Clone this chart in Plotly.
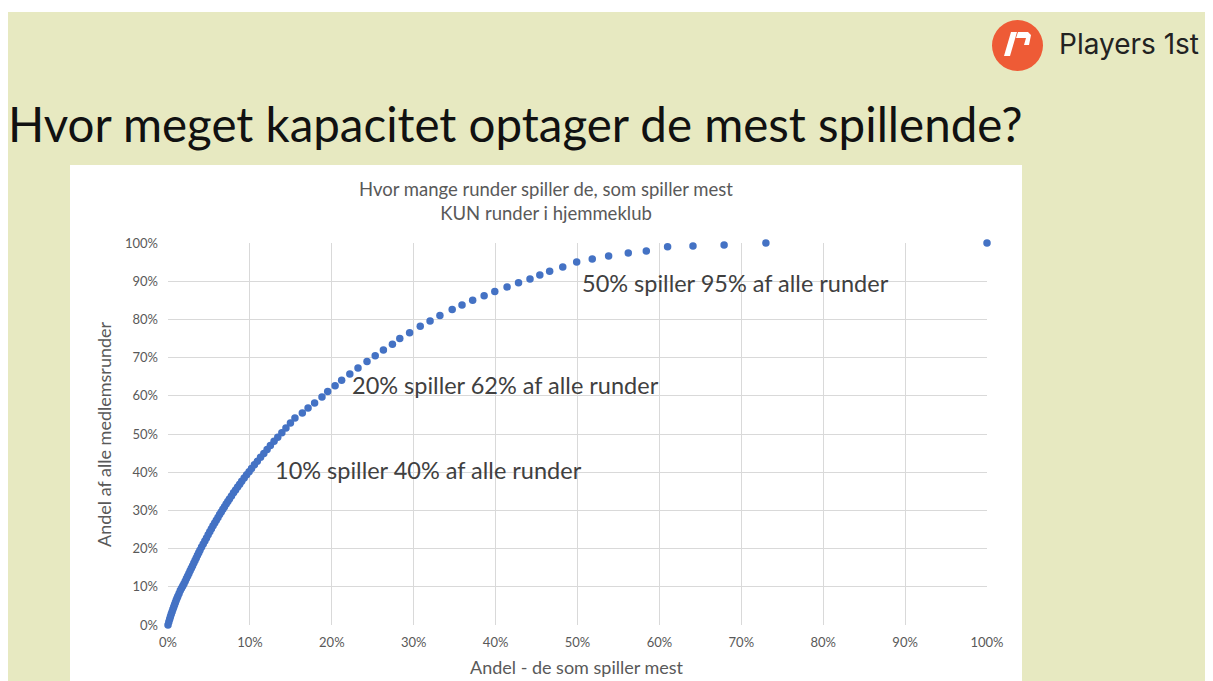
import plotly.graph_objects as go

# Cumulative share of players (sorted by most rounds) vs cumulative share of rounds
andel_spillere = [
    0.0, 0.1, 0.2, 0.3, 0.4, 0.5, 0.6, 0.7, 0.8, 0.9, 1.0, 1.1, 1.2, 1.35, 1.5,
    1.65, 1.8, 1.95, 2.1, 2.25, 2.4, 2.55, 2.7, 2.85, 3.0, 3.15, 3.3, 3.45, 3.6,
    3.75, 3.9, 4.1, 4.3, 4.5, 4.7, 4.9, 5.1, 5.3, 5.5, 5.7, 5.9, 6.1, 6.3, 6.5,
    6.7, 6.9, 7.1, 7.3, 7.5, 7.75, 8.0, 8.25, 8.5, 8.75, 9.0, 9.3, 9.6, 9.9, 10.2,
    10.55, 10.9, 11.3, 11.7, 12.1, 12.5, 12.95, 13.4, 13.9, 14.4, 14.95, 15.5,
    16.4, 17.1, 17.9, 18.8, 19.5, 20.4, 21.2, 22.2, 23.2, 24.3, 25.3, 26.3, 27.4,
    28.3, 29.5, 30.8, 32.0, 33.2, 34.7, 35.9, 37.2, 38.6, 39.9, 41.4, 42.8, 44.2,
    45.4, 46.6, 48.2, 49.9, 51.8, 53.8, 56.2, 58.4, 61.0, 64.1, 67.9, 73.0, 100.0,
]
andel_runder = [
    0.0, 0.8, 1.5, 2.2, 2.9, 3.5, 4.1, 4.7, 5.3, 5.9, 6.5, 7.0, 7.5, 8.25, 9.0,
    9.6, 10.2, 10.8, 11.45, 12.15, 12.85, 13.5, 14.2, 14.85, 15.5, 16.2, 16.9, 17.55, 18.25,
    18.9, 19.55, 20.4, 21.2, 22.0, 22.8, 23.6, 24.4, 25.2, 26.0, 26.7, 27.45, 28.15, 28.9, 29.6,
    30.3, 30.95, 31.65, 32.3, 33.0, 33.8, 34.6, 35.35, 36.1, 36.85, 37.6, 38.45, 39.3, 40.1, 40.95,
    41.95, 42.85, 43.9, 44.9, 45.95, 47.0, 48.1, 49.15, 50.35, 51.55, 52.9, 54.2,
    55.5, 56.8, 58.1, 59.7, 61.1, 62.6, 64.1, 65.7, 67.3, 69.0, 70.5, 72.0, 73.5,
    75.0, 76.5, 78.2, 79.6, 81.0, 82.6, 83.8, 85.0, 86.2, 87.3, 88.5, 89.6, 90.6,
    91.6, 92.6, 93.7, 95.0, 95.8, 96.6, 97.4, 97.9, 99.0, 99.2, 99.5, 100.0, 100.0,
]
tick_vals = [0, 10, 20, 30, 40, 50, 60, 70, 80, 90, 100]
tick_text = [f"{v}%" for v in tick_vals]

OFF = 8                      # page body margin
W, H = 1213 - OFF, 681 - OFF
L, R, T, B = 168, 987, 243, 625  # plot area in reference-image pixels


def PX(x):
    return (x - L) / (R - L)


def PY(y):
    return (B - y) / (B - T)


GREEN = "#e7e9c1"
GRAY = "#595959"
FONT = "Lato"

fig = go.Figure()
fig.add_trace(go.Scatter(
    x=andel_spillere, y=andel_runder, mode="markers",
    marker=dict(color="#4472C4", size=7.5, line=dict(width=0)),
    cliponaxis=False, hoverinfo="x+y", showlegend=False,
))

shapes = [
    dict(type="rect", xref="paper", yref="paper", layer="below",
         x0=PX(8), x1=PX(1230), y0=PY(12), y1=PY(700),
         fillcolor=GREEN, line=dict(width=0)),
    dict(type="rect", xref="paper", yref="paper", layer="below",
         x0=PX(70), x1=PX(1022), y0=PY(165), y1=PY(700),
         fillcolor="white", line=dict(width=0)),
    dict(type="circle", xref="paper", yref="paper", layer="above",
         x0=PX(992), x1=PX(1043), y0=PY(71), y1=PY(20),
         fillcolor="#ee5b36", line=dict(width=0)),
]
# logo glyph (two white strokes)
glyphs = [
    [(1004, 56), (1010, 56), (1017, 32), (1011, 32)],
    [(1018, 32), (1028, 32), (1031, 35), (1029, 45), (1024, 45), (1026, 38), (1016, 38)],
]
for pts in glyphs:
    path = "M " + " L ".join(f"{PX(x)},{PY(y)}" for x, y in pts) + " Z"
    shapes.append(dict(type="path", xref="paper", yref="paper", layer="above",
                       path=path, fillcolor="white", line=dict(width=0)))

annotations = [
    dict(text="Hvor meget kapacitet optager de mest spillende?", xref="paper", yref="paper",
         x=PX(6), y=PY(124), xanchor="left", yanchor="middle", showarrow=False,
         font=dict(family=FONT, size=47.5, color="#111111")),
    dict(text="Players 1st", xref="paper", yref="paper",
         x=PX(1057), y=PY(44), xanchor="left", yanchor="middle", showarrow=False,
         font=dict(family="Inter", size=28, color="#222222")),
    dict(text="Hvor mange runder spiller de, som spiller mest<br>KUN runder i hjemmeklub",
         xref="paper", yref="paper", x=PX(546), y=PY(201), xanchor="center", yanchor="middle",
         showarrow=False, font=dict(family=FONT, size=18.5, color=GRAY)),
    dict(text="Andel af alle medlemsrunder", xref="paper", yref="paper",
         x=PX(104), y=PY(434), xanchor="center", yanchor="middle", textangle=-90,
         showarrow=False, font=dict(family=FONT, size=18, color=GRAY)),
    dict(text="Andel - de som spiller mest", xref="paper", yref="paper",
         x=PX(577), y=PY(667), xanchor="center", yanchor="middle",
         showarrow=False, font=dict(family=FONT, size=18, color=GRAY)),
    dict(text="10% spiller 40% af alle runder", xref="paper", yref="paper",
         x=PX(273), y=PY(470), xanchor="left", yanchor="middle",
         showarrow=False, font=dict(family=FONT, size=23.5, color="#404040")),
    dict(text="20% spiller 62% af alle runder", xref="paper", yref="paper",
         x=PX(350), y=PY(385), xanchor="left", yanchor="middle",
         showarrow=False, font=dict(family=FONT, size=23.5, color="#404040")),
    dict(text="50% spiller 95% af alle runder", xref="paper", yref="paper",
         x=PX(580), y=PY(283), xanchor="left", yanchor="middle",
         showarrow=False, font=dict(family=FONT, size=23.5, color="#404040")),
]

axis_common = dict(
    range=[0, 100], tickvals=tick_vals, ticktext=tick_text,
    showgrid=True, gridcolor="#d9d9d9", gridwidth=1,
    zeroline=False, showline=False, ticks="",
    tickfont=dict(family=FONT, size=13, color=GRAY), fixedrange=True,
)

fig.update_layout(
    width=W, height=H, autosize=False,
    margin=dict(l=L - OFF, r=1213 - R, t=T - OFF, b=681 - B, pad=0),
    paper_bgcolor="white", plot_bgcolor="rgba(0,0,0,0)",
    xaxis=dict(**axis_common, ticklabelstandoff=8),
    yaxis=dict(**axis_common, ticklabelstandoff=9),
    shapes=shapes, annotations=annotations, showlegend=False,
)

fig.write_html("out.html", config={"displayModeBar": False})
